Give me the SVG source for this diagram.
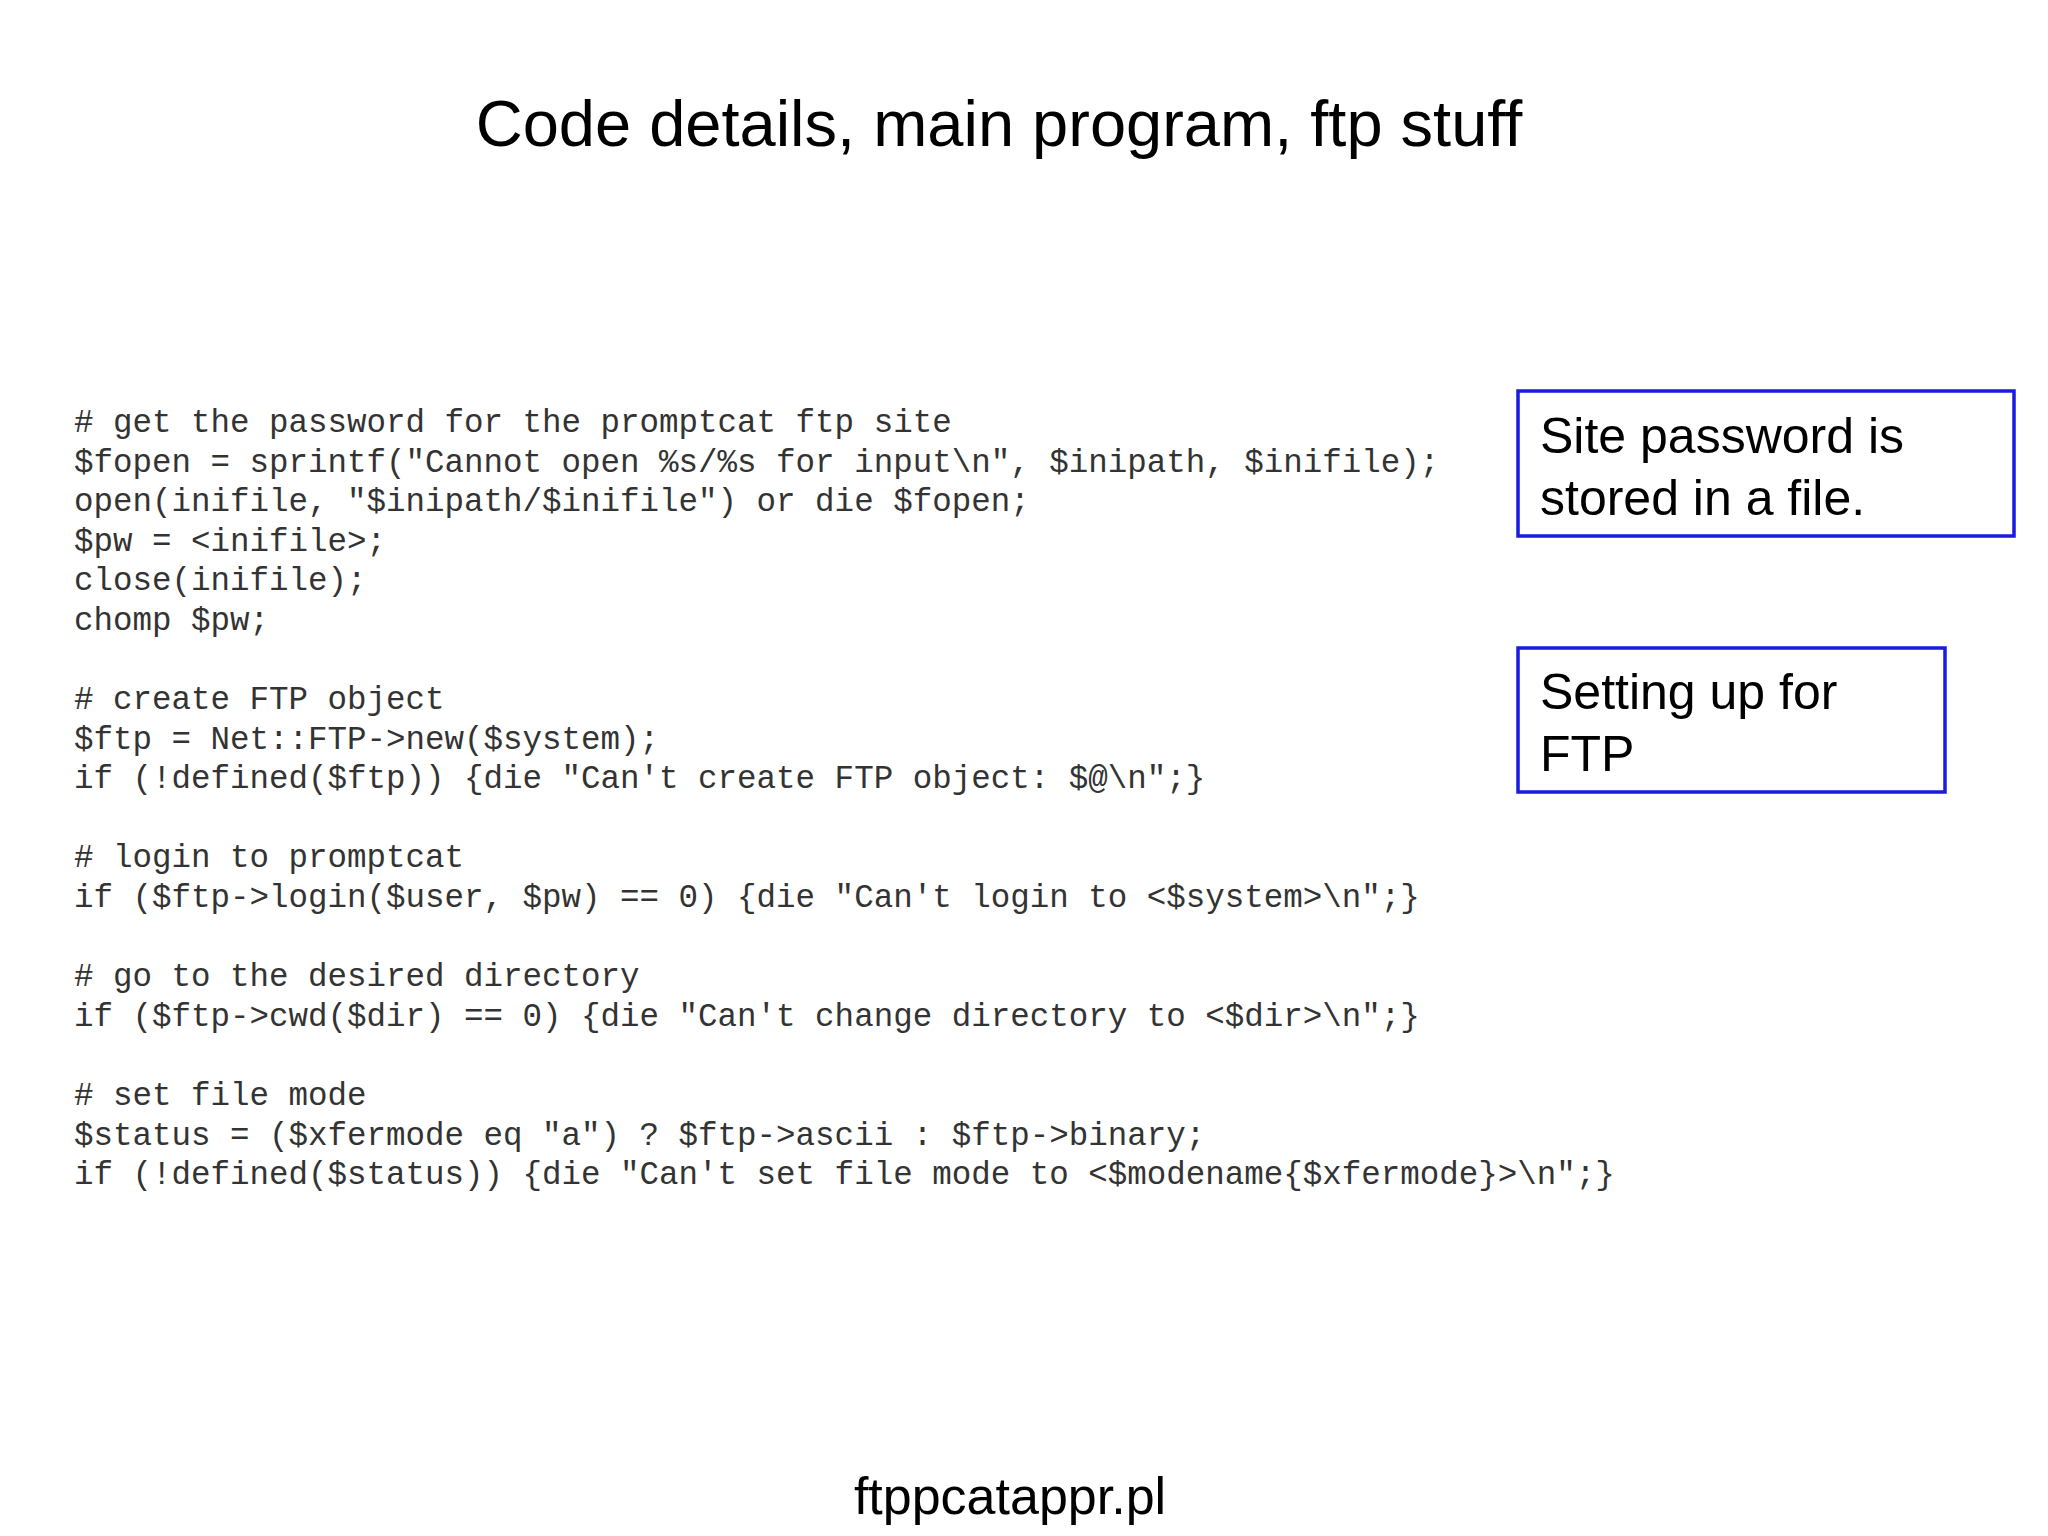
<svg xmlns="http://www.w3.org/2000/svg" width="2048" height="1536" viewBox="0 0 2048 1536">
<style>
.t{font-family:"Liberation Sans",Arial,sans-serif;fill:#000}
.c{font-family:"Liberation Mono","Courier New",monospace;font-size:32.5px;fill:#333;white-space:pre}
.b{fill:none;stroke:#1a1ae0;stroke-width:3.5}
</style>
<rect width="2048" height="1536" fill="#fff"/>
<text class="t" x="999" y="146" font-size="65" text-anchor="middle">Code details, main program, ftp stuff</text>
<g id="code">
<text class="c" x="74" y="432">#&#160;get the password for the promptcat ftp site</text>
<text class="c" x="74" y="472">$fopen = sprintf("Cannot open %s/%s for input\n", $inipath, $inifile);</text>
<text class="c" x="74" y="511">open(inifile, "$inipath/$inifile") or die $fopen;</text>
<text class="c" x="74" y="551">$pw = &lt;inifile&gt;;</text>
<text class="c" x="74" y="590">close(inifile);</text>
<text class="c" x="74" y="630">chomp $pw;</text>
<text class="c" x="74" y="709"># create FTP object</text>
<text class="c" x="74" y="749">$ftp = Net::FTP-&gt;new($system);</text>
<text class="c" x="74" y="788">if (!defined($ftp)) {die "Can't create FTP object: $@\n";}</text>
<text class="c" x="74" y="867"># login to promptcat</text>
<text class="c" x="74" y="907">if ($ftp-&gt;login($user, $pw) == 0) {die "Can't login to &lt;$system&gt;\n";}</text>
<text class="c" x="74" y="986"># go to the desired directory</text>
<text class="c" x="74" y="1026">if ($ftp-&gt;cwd($dir) == 0) {die "Can't change directory to &lt;$dir&gt;\n";}</text>
<text class="c" x="74" y="1105"># set file mode</text>
<text class="c" x="74" y="1145">$status = ($xfermode eq "a") ? $ftp-&gt;ascii : $ftp-&gt;binary;</text>
<text class="c" x="74" y="1184">if (!defined($status)) {die "Can't set file mode to &lt;$modename{$xfermode}&gt;\n";}</text>
</g>
<g id="note1">
<rect class="b" x="1518" y="391" width="496" height="145"/>
<text class="t" x="1540" y="453" font-size="50">Site password is</text>
<text class="t" x="1540" y="515" font-size="50">stored in a file.</text>
</g>
<g id="note2">
<rect class="b" x="1518" y="648" width="427" height="144"/>
<text class="t" x="1540" y="709" font-size="50">Setting up for</text>
<text class="t" x="1540" y="771" font-size="50">FTP</text>
</g>
<text class="t" x="1010" y="1514" font-size="52" text-anchor="middle">ftppcatappr.pl</text>
</svg>
